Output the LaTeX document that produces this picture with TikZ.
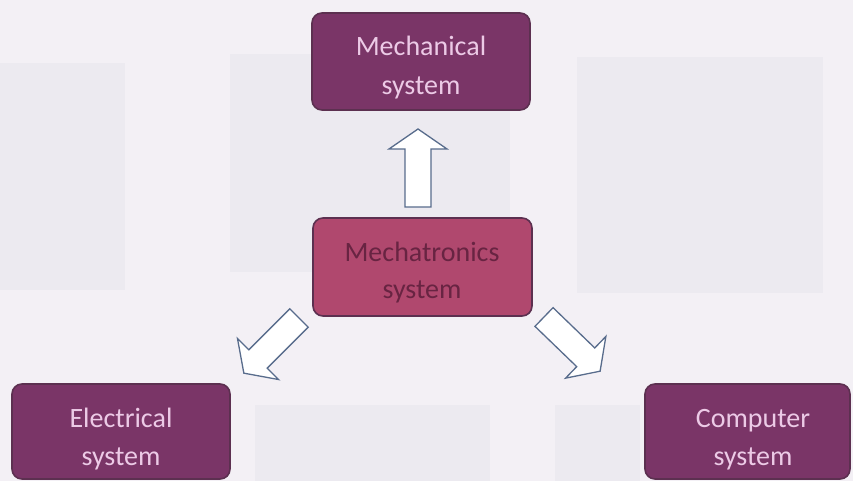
\documentclass[tikz,border=0pt]{standalone}
\usepackage{fontspec}
\setmainfont{Carlito}
\begin{document}
\begin{tikzpicture}[x=1pt,y=-1pt,
  sysbox/.style={draw=boxedge,line width=1.6pt,rounded corners=10pt,fill=#1},
  lighttext/.style={text=lighttxt,font=\fontsize{28}{34}\selectfont,anchor=base,inner sep=0pt},
  darktext/.style={text=darktxt,font=\fontsize{28}{34}\selectfont,anchor=base,inner sep=0pt},
  arrowline/.style={draw=arrowedge,line width=1.3pt,fill=white,line join=miter},
  ghost/.style={fill=ghostfill,draw=none},
  hollowarrow/.pic={\path[arrowline] (0,-13) -- (58,-13) -- (58,-29) -- (78,0) -- (58,29) -- (58,13) -- (0,13) -- cycle;}
]
\definecolor{bgfill}{RGB}{243,240,245}
\definecolor{ghostfill}{RGB}{236,234,240}
\definecolor{boxedge}{RGB}{92,48,80}
\definecolor{purplefill}{RGB}{122,53,103}
\definecolor{rosefill}{RGB}{176,72,110}
\definecolor{lighttxt}{RGB}{236,202,230}
\definecolor{darktxt}{RGB}{104,36,66}
\definecolor{arrowedge}{RGB}{88,108,140}

% canvas
\fill[bgfill] (0,0) rectangle (853,481);
\useasboundingbox (0,0) rectangle (853,481);

% faint background panels
\fill[ghost] (0,63) rectangle (125,290);
\fill[ghost] (230,54) rectangle (510,272);
\fill[ghost] (577,57) rectangle (823,293);
\fill[ghost] (255,405) rectangle (490,481);
\fill[ghost] (555,405) rectangle (640,481);

% system boxes
\node[sysbox=purplefill,minimum width=218pt,minimum height=97pt] (mech) at (421,61.5) {};
\node[sysbox=rosefill,minimum width=219pt,minimum height=98pt] (mtron) at (422.5,267) {};
\node[sysbox=purplefill,minimum width=218pt,minimum height=95pt] (elec) at (121,431.5) {};
\node[sysbox=purplefill,minimum width=205pt,minimum height=95pt] (comp) at (747.5,431.5) {};

% box labels
\node[lighttext] (mechA) at (421,56) {Mechanical};
\node[lighttext] (mechB) at (421,95) {system};
\node[darktext] (mtronA) at (422,261) {Mechatronics};
\node[darktext] (mtronB) at (422,298) {system};
\node[lighttext] (elecA) at (121,427) {Electrical};
\node[lighttext] (elecB) at (121,465) {system};
\node[lighttext] (compA) at (753,427) {Computer};
\node[lighttext] (compB) at (753,465) {system};

% hollow block arrows leading out of the mechatronics box
\coordinate (upTail) at (418,207);
\coordinate (leftTail) at (299,318);
\coordinate (rightTail) at (544,317);
\pic[rotate=90] at (upTail) {hollowarrow};
\pic[rotate=225] at (leftTail) {hollowarrow};
\pic[rotate=-44] at (rightTail) {hollowarrow};
\end{tikzpicture}
\end{document}
